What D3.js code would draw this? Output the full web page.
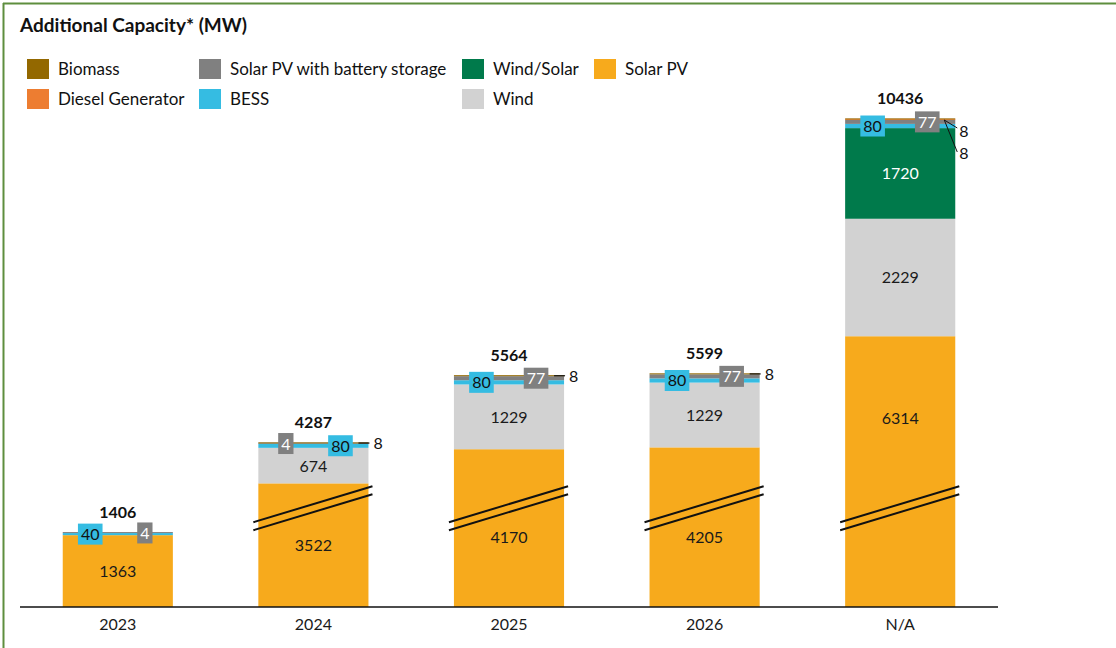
<!DOCTYPE html>
<html>
<head>
<meta charset="utf-8">
<script src="https://cdn.jsdelivr.net/npm/d3@7"></script>
<style>
  body { margin: 0; background: #fff; }
  svg { display: block; font-family: Lato, "Noto Sans", sans-serif; }
</style>
</head>
<body>
<div id="chart"></div>
<script>
// data
var categories = ["2023", "2024", "2025", "2026", "N/A"];
var solarPV      = [1363, 3522, 4170, 4205, 6314];
var wind         = [0, 674, 1229, 1229, 2229];
var windSolar    = [0, 0, 0, 0, 1720];
var bess         = [40, 80, 80, 80, 80];
var solarBattery = [4, 4, 77, 77, 77];
var diesel       = [0, 0, 0, 0, 8];
var biomass      = [0, 8, 8, 8, 8];
var totals       = [1406, 4287, 5564, 5599, 10436];
var brokenAxis   = [false, true, true, true, true];   // solar bars drawn with a break

var keys = ["Solar PV", "Wind", "Wind/Solar", "BESS", "Solar PV with battery storage", "Diesel Generator", "Biomass"];
var colors = {
  "Solar PV": "#F7AA1C",
  "Wind": "#D2D2D2",
  "Wind/Solar": "#007A4B",
  "BESS": "#35BCE2",
  "Solar PV with battery storage": "#808080",
  "Diesel Generator": "#ED7D31",
  "Biomass": "#936800"
};
var legendRows = [
  ["Biomass", "Solar PV with battery storage", "Wind/Solar", "Solar PV"],
  ["Diesel Generator", "BESS", "Wind"]
];

// layout
var W = 1116, H = 648;
var baseY = 607;
var solarCut = 1176;      // MW hidden by the axis break
var breakAt = 1950;       // where the break marks sit
var swapSlots = ["2024"]; // battery box on the left there
var solarLabelShift = {"2025": 9, "2026": 10, "N/A": -54};

var rows = categories.map(function (c, i) {
  return {
    cat: c, i: i,
    "Solar PV": solarPV[i] - (brokenAxis[i] ? solarCut : 0),
    "Wind": wind[i],
    "Wind/Solar": windSolar[i],
    "BESS": bess[i],
    "Solar PV with battery storage": solarBattery[i],
    "Diesel Generator": diesel[i],
    "Biomass": biomass[i]
  };
});
var realValue = {
  "Solar PV": solarPV, "Wind": wind, "Wind/Solar": windSolar, "BESS": bess,
  "Solar PV with battery storage": solarBattery, "Diesel Generator": diesel, "Biomass": biomass
};

var svg = d3.select("#chart").append("svg")
    .attr("width", W)
    .attr("height", H);

// frame (top and left only show)
svg.append("line").attr("x1", 3).attr("x2", W).attr("y1", 3.5).attr("y2", 3.5)
    .attr("stroke", "#5E8E3E").attr("stroke-width", 2);
svg.append("line").attr("x1", 3.5).attr("x2", 3.5).attr("y1", 3).attr("y2", H)
    .attr("stroke", "#5E8E3E").attr("stroke-width", 2);

svg.append("text")
    .attr("x", 20).attr("y", 32)
    .attr("font-size", 19).attr("font-weight", "bold").attr("fill", "#111")
    .text("Additional Capacity* (MW)");

// legend
var legendX = [27, 199, 462, 594];
var legendY = [69, 99];
legendRows.forEach(function (row, r) {
  row.forEach(function (k, c) {
    var g = svg.append("g").attr("transform", "translate(" + legendX[c] + "," + legendY[r] + ")");
    g.append("rect").attr("x", 0).attr("y", -10).attr("width", 22).attr("height", 20)
        .attr("fill", colors[k]);
    g.append("text").attr("x", 31).attr("y", 6).attr("font-size", 17).attr("fill", "#111").text(k);
  });
});

var x = d3.scaleBand()
    .domain(categories)
    .range([20, 998])
    .paddingInner(0.437)
    .paddingOuter(0.2185);

var y = d3.scaleLinear()
    .domain([0, 10000])
    .range([baseY, baseY - 527]);

var stack = d3.stack().keys(keys);
var series = stack(rows);

var layers = svg.append("g").selectAll("g")
  .data(series)
  .join("g")
    .attr("fill", function (d) { return colors[d.key]; });

// tiny segments get at least 1px so they stay visible
layers.selectAll("rect")
  .data(function (d) { return d; })
  .join("rect")
    .attr("x", function (d) { return x(d.data.cat); })
    .attr("width", x.bandwidth())
    .attr("y", function (d) {
      var h = y(d[0]) - y(d[1]);
      return h > 0 && h < 1 ? y(d[0]) - 1 : y(d[1]);
    })
    .attr("height", function (d) {
      var h = y(d[0]) - y(d[1]);
      return h > 0 && h < 1 ? 1 : h;
    });

// break marks
rows.forEach(function (r) {
  if (!brokenAxis[r.i]) return;
  var x0 = x(r.cat) - 5, x1 = x(r.cat) + x.bandwidth() + 4;
  var yb = y(breakAt);
  [0, 8].forEach(function (off) {
    svg.append("line")
        .attr("x1", x0).attr("y1", yb + 18 + off)
        .attr("x2", x1).attr("y2", yb - 18 + off)
        .attr("stroke", "#111").attr("stroke-width", 2);
  });
});

// labels
var labels = svg.append("g").attr("font-size", 16);

series.forEach(function (s) {
  s.forEach(function (d) {
    var cat = d.data.cat, i = d.data.i;
    var v = realValue[s.key][i];
    if (!v) return;
    var h = y(d[0]) - y(d[1]);
    var cx = x(cat) + x.bandwidth() / 2;
    var cy = (y(d[0]) + y(d[1])) / 2;
    if (h > 25) {
      if (s.key === "Solar PV" && solarLabelShift[cat]) cy += solarLabelShift[cat];
      labels.append("text")
          .attr("x", cx).attr("y", cy + 6)
          .attr("text-anchor", "middle")
          .attr("fill", s.key === "Wind/Solar" ? "#fff" : "#1a1a1a")
          .text(v);
    } else if (s.key === "BESS" || s.key === "Solar PV with battery storage") {
      var left = (s.key === "BESS") !== (swapSlots.indexOf(cat) >= 0);
      var bx = left ? x(cat) + 27.5 : x(cat) + x.bandwidth() - 28;
      var str = String(v);
      var bw = str.length * 9.3 + 6;
      labels.append("rect")
          .attr("x", bx - bw / 2).attr("y", cy - 10.5)
          .attr("width", bw).attr("height", 21)
          .attr("fill", colors[s.key]);
      labels.append("text")
          .attr("x", bx).attr("y", cy + 6)
          .attr("text-anchor", "middle")
          .attr("fill", s.key === "BESS" ? "#111" : "#fff")
          .text(str);
    }
  });
});

// tiny top segments: leader lines to the right
rows.forEach(function (r) {
  var tiny = ["Diesel Generator", "Biomass"].filter(function (k) { return realValue[k][r.i] > 0; });
  var right = x(r.cat) + x.bandwidth();
  var top = y(totals[r.i] - (brokenAxis[r.i] ? solarCut : 0));
  if (tiny.length === 1) {
    svg.append("line").attr("x1", right - 10).attr("x2", right + 1)
        .attr("y1", top).attr("y2", top)
        .attr("stroke", "#111").attr("stroke-width", 1.2);
    labels.append("text").attr("x", right + 5).attr("y", top + 6).attr("fill", "#111")
        .text(realValue[tiny[0]][r.i]);
  } else {
    tiny.forEach(function (k, j) {
      var ly = top + 12 + j * 22;
      svg.append("line").attr("x1", right - 11).attr("y1", top + 1)
          .attr("x2", right + 2).attr("y2", ly - 3 + j * 2)
          .attr("stroke", "#111").attr("stroke-width", 1);
      labels.append("text").attr("x", right + 4).attr("y", ly + 6).attr("fill", "#111")
          .text(realValue[k][r.i]);
    });
  }
});

// totals
labels.selectAll(".total")
  .data(rows)
  .join("text")
    .attr("class", "total")
    .attr("x", function (d) { return x(d.cat) + x.bandwidth() / 2; })
    .attr("y", function (d) { return y(totals[d.i] - (brokenAxis[d.i] ? solarCut : 0)) - 15; })
    .attr("text-anchor", "middle")
    .attr("font-weight", "bold")
    .attr("fill", "#111")
    .text(function (d) { return totals[d.i]; });

// x axis
var xAxis = svg.append("g")
    .attr("transform", "translate(0," + baseY + ")")
    .call(d3.axisBottom(x).tickSize(0).tickPadding(12));
xAxis.select(".domain").attr("stroke", "#111").attr("stroke-width", 1.6)
    .attr("d", "M20,0H998");
xAxis.selectAll("text")
    .attr("font-size", 16).attr("font-family", "Lato, 'Noto Sans', sans-serif").attr("fill", "#1a1a1a");
</script>
</body>
</html>
